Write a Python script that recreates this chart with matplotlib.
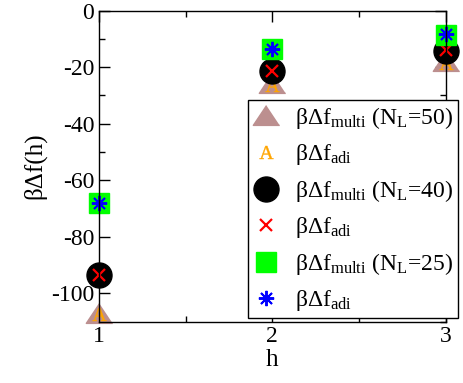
import matplotlib
matplotlib.use("Agg")
import matplotlib.pyplot as plt
from matplotlib.ticker import MultipleLocator

plt.rcParams['font.family'] = ['Liberation Serif', 'DejaVu Serif']
plt.rcParams['mathtext.fontset'] = 'custom'
plt.rcParams['mathtext.rm'] = 'Liberation Serif'
plt.rcParams['mathtext.it'] = 'Liberation Serif:italic'
plt.rcParams['mathtext.bf'] = 'Liberation Serif:bold'
plt.rcParams['axes.unicode_minus'] = False

h = [1, 2, 3]
multi_50 = [-107, -25.5, -18]
adi_50 = [-107.5, -26.5, -18.5]
multi_40 = [-93.5, -21.3, -14.5]
adi_40 = [-93.5, -21.3, -14]
multi_25 = [-68, -13.6, -8.5]
adi_25 = [-68, -13.6, -8.3]

labels = [
    r'βΔf$_{\mathrm{multi}}$ (N$_{\mathrm{L}}$=50)',
    r'βΔf$_{\mathrm{adi}}$',
    r'βΔf$_{\mathrm{multi}}$ (N$_{\mathrm{L}}$=40)',
    r'βΔf$_{\mathrm{adi}}$',
    r'βΔf$_{\mathrm{multi}}$ (N$_{\mathrm{L}}$=25)',
    r'βΔf$_{\mathrm{adi}}$',
]

fig = plt.figure(figsize=(4.64, 3.83), dpi=100)
ax = fig.add_axes([99/464, 1-321.5/383, (445.7-99)/464, (321.5-10.5)/383])

tri = [(0, 0.75), (-1, -0.75), (1, -0.75)]
kw = dict(linestyle='none', clip_on=False)
ax.plot(h, multi_50, marker=tri, markersize=19, color='#bc8f8f', label=labels[0], **kw)
ax.plot(h, adi_50, marker=r'$\mathrm{A}$', markersize=10, markeredgewidth=0.3, color='#ffa500', label=labels[1], **kw)
ax.plot(h, multi_40, marker='o', markersize=18, color='black', label=labels[2], **kw)
ax.plot(h, adi_40, marker='x', markersize=8, markeredgewidth=1.6, color='red', label=labels[3], **kw)
ax.plot(h, multi_25, marker='s', markersize=15, color='#00ff00', label=labels[4], **kw)
ax.plot(h, adi_25, marker=(8, 2, 0), markersize=11, markeredgewidth=1.4, color='blue', label=labels[5], **kw)

ax.set_xlim(1, 3)
ax.set_ylim(-110, 0)
ax.xaxis.set_major_locator(MultipleLocator(1))
ax.xaxis.set_minor_locator(MultipleLocator(0.5))
ax.yaxis.set_major_locator(MultipleLocator(20))
ax.yaxis.set_minor_locator(MultipleLocator(10))
ax.tick_params(which='both', direction='in', top=True, right=True, width=1, labelsize=17)
ax.tick_params(which='major', length=8)
ax.tick_params(which='minor', length=4)
for s in ax.spines.values():
    s.set_linewidth(1)
ax.set_xlabel('h', fontsize=18, labelpad=1)
ax.set_ylabel('βΔf(h)', fontsize=18, labelpad=3)

leg = fig.legend(loc='upper left', bbox_to_anchor=(248/464, 1-100/383), borderaxespad=0,
                 fontsize=17, frameon=True, fancybox=False, edgecolor='black', framealpha=1,
                 labelspacing=0.47, handletextpad=0.7, borderpad=0.2, handlelength=1.1,
                 numpoints=1)
leg.get_frame().set_linewidth(1)

fig.savefig('out.png', dpi=100)
